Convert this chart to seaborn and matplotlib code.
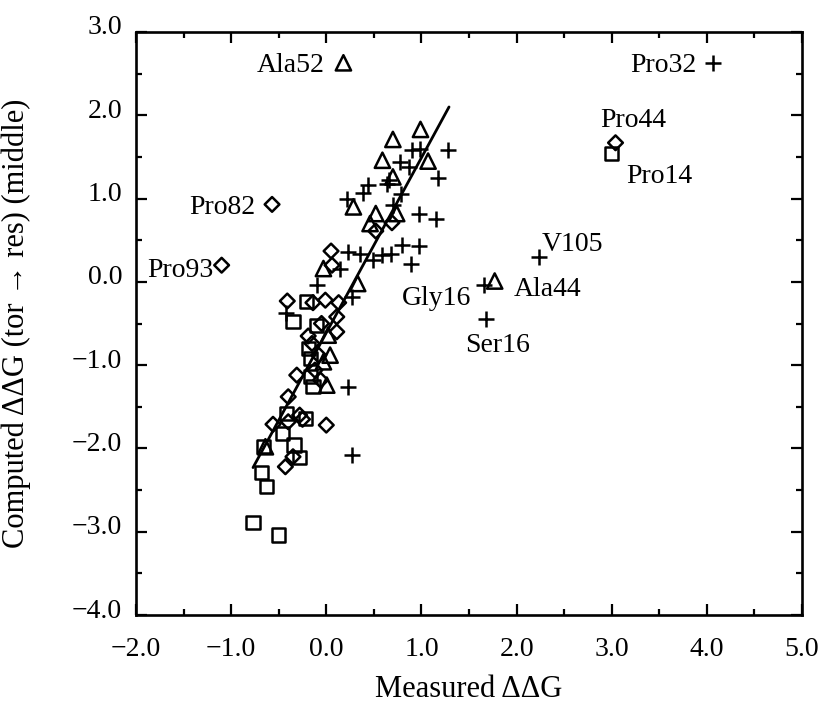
import numpy as np
import pandas as pd
import matplotlib
matplotlib.use("Agg")
import matplotlib.pyplot as plt
import matplotlib.transforms as mtransforms
from matplotlib.ticker import MultipleLocator, FuncFormatter
import seaborn as sns

# ---------------- data ----------------
tri_x = [0.18, 1.77, 0.99, 0.70, 0.59, 1.07, 0.70, 0.285, 0.52, 0.74, 0.46,
         -0.03, 0.33, 0.02, 0.04, -0.03, 0.005, -0.64]
tri_y = [2.63, 0.01, 1.83, 1.71, 1.46, 1.45, 1.26, 0.90, 0.82, 0.82, 0.70,
         0.16, -0.02, -0.64, -0.88, -0.96, -1.24, -1.98]

dia_x = [3.04, -0.57, -1.10, 0.69, 0.52, 0.05, 0.06, -0.41, -0.01, 0.13, -0.14,
         -0.05, 0.11, 0.11, -0.19, -0.15, -0.08, -0.31, -0.12, -0.06, -0.40,
         -0.28, -0.56, -0.40, 0.0, -0.35, -0.43, -0.25]
dia_y = [1.67, 0.93, 0.20, 0.71, 0.61, 0.37, 0.20, -0.23, -0.22, -0.25, -0.25,
         -0.50, -0.42, -0.60, -0.65, -0.74, -0.88, -1.12, -1.06, -1.18, -1.38,
         -1.60, -1.71, -1.68, -1.72, -2.10, -2.22, -1.65]

sq_x = [3.00, -0.21, -0.35, -0.10, -0.19, -0.17, -0.17, -0.14, -0.42, -0.22,
        -0.46, -0.34, -0.66, -0.28, -0.68, -0.63, -0.77, -0.50]
sq_y = [1.54, -0.24, -0.48, -0.52, -0.80, -0.92, -1.14, -1.26, -1.58, -1.64,
        -1.82, -1.96, -1.98, -2.11, -2.29, -2.46, -2.89, -3.04]

plus_x = [4.06, 2.24, 1.66, 1.68, 0.90, 0.99, 1.28, 0.78, 0.87, 1.17, 0.44,
          0.39, 0.64, 0.79, 0.215, 0.705, 0.97, 1.155, 0.80, 0.97, 0.89,
          0.23, 0.355, 0.49, 0.59, 0.68, 0.145, -0.10, 0.27, -0.42, 0.23,
          0.27, 0.66]
plus_y = [2.63, 0.30, -0.04, -0.44, 1.58, 1.60, 1.58, 1.44, 1.38, 1.25, 1.16,
          1.07, 1.18, 1.06, 1.00, 0.92, 0.82, 0.76, 0.44, 0.43, 0.22,
          0.36, 0.34, 0.26, 0.32, 0.34, 0.15, -0.04, -0.18, -0.37, -1.26,
          -2.08, 1.22]

line_x = [-0.77, 1.29]
line_y = [-2.23, 2.10]

# labelled points
label_names = ["Ala52", "Pro32", "Pro44", "Pro14", "Pro82", "Pro93",
               "V105", "Gly16", "Ala44", "Ser16"]
label_x = [0.18, 4.06, 3.04, 3.00, -0.57, -1.10, 2.24, 1.66, 1.77, 1.68]
label_y = [2.63, 2.63, 1.67, 1.54, 0.93, 0.20, 0.30, -0.04, 0.01, -0.44]
# text offsets in pixels relative to the point
label_dx = [-53, -49, 18, 48, -50, -41, 33, -48, 53, 11]
label_dy = [0, 0, 25, -20, 0, -2, 15, -10, -5, -24]

x_ticks = np.arange(-2.0, 5.01, 1.0)
y_ticks = np.arange(-4.0, 3.01, 1.0)

# ---------------- style ----------------
sns.set_theme(style="ticks")
plt.rcParams['font.family'] = ['Liberation Serif', 'DejaVu Serif']
plt.rcParams['axes.unicode_minus'] = True

fig = plt.figure(figsize=(8.23, 7.05), dpi=100)
ax = fig.add_axes([136/823, 1 - 615/705, (802 - 136)/823, (615 - 32)/705])

sns.lineplot(x=line_x, y=line_y, color='black', linewidth=2.0, ax=ax, zorder=2)
sns.scatterplot(x=tri_x, y=tri_y, marker='^', s=11**2, facecolor='none',
                edgecolor='black', linewidth=1.8, ax=ax, zorder=3)
sns.scatterplot(x=dia_x, y=dia_y, marker='D', s=7.5**2, facecolor='none',
                edgecolor='black', linewidth=1.8, ax=ax, zorder=3)
sns.scatterplot(x=sq_x, y=sq_y, marker='s', s=9.5**2, facecolor='none',
                edgecolor='black', linewidth=1.8, ax=ax, zorder=3)
sns.scatterplot(x=plus_x, y=plus_y, marker='+', s=11.5**2, color='black',
                linewidth=1.8, ax=ax, zorder=3)

for name, px, py, dx, dy in zip(label_names, label_x, label_y, label_dx, label_dy):
    ax.annotate(name, xy=(px, py), xytext=(dx, dy), textcoords='offset pixels',
                ha='center', va='center_baseline', fontsize=20, color='black')

ax.set_xlim(-2.0, 5.0)
ax.set_ylim(-4.0, 3.0)
ax.set_xticks(x_ticks)
ax.set_yticks(y_ticks)
ax.xaxis.set_minor_locator(MultipleLocator(0.5))
ax.yaxis.set_minor_locator(MultipleLocator(0.5))
fmt = FuncFormatter(lambda v, p: f"{v:.1f}".replace('-', '\u2212'))
ax.xaxis.set_major_formatter(fmt)
ax.yaxis.set_major_formatter(fmt)

ax.tick_params(which='both', direction='in', top=True, right=True,
               width=1.6, color='black', labelsize=20, labelcolor='black')
ax.tick_params(which='major', length=8)
ax.tick_params(which='minor', length=4.5)
ax.tick_params(axis='x', which='major', pad=16)
ax.tick_params(axis='y', which='major', pad=10)

for sp in ax.spines.values():
    sp.set_linewidth(1.9)
    sp.set_color('black')
ax.set_facecolor('white')
ax.grid(False)

ax.set_xlabel("Measured \u0394\u0394G", fontsize=22, color='black')
ax.set_ylabel("Computed \u0394\u0394G (tor \u2192 res) (middle)", fontsize=22, color='black')
ax.xaxis.set_label_coords(0.5, -0.103)
ax.yaxis.set_label_coords(-0.158, 0.5)

fig.canvas.draw()
shift = mtransforms.ScaledTranslation(0, 7/100, fig.dpi_scale_trans)
for lbl in ax.get_yticklabels():
    lbl.set_transform(lbl.get_transform() + shift)

fig.savefig("out.png", dpi=100, facecolor='white')
